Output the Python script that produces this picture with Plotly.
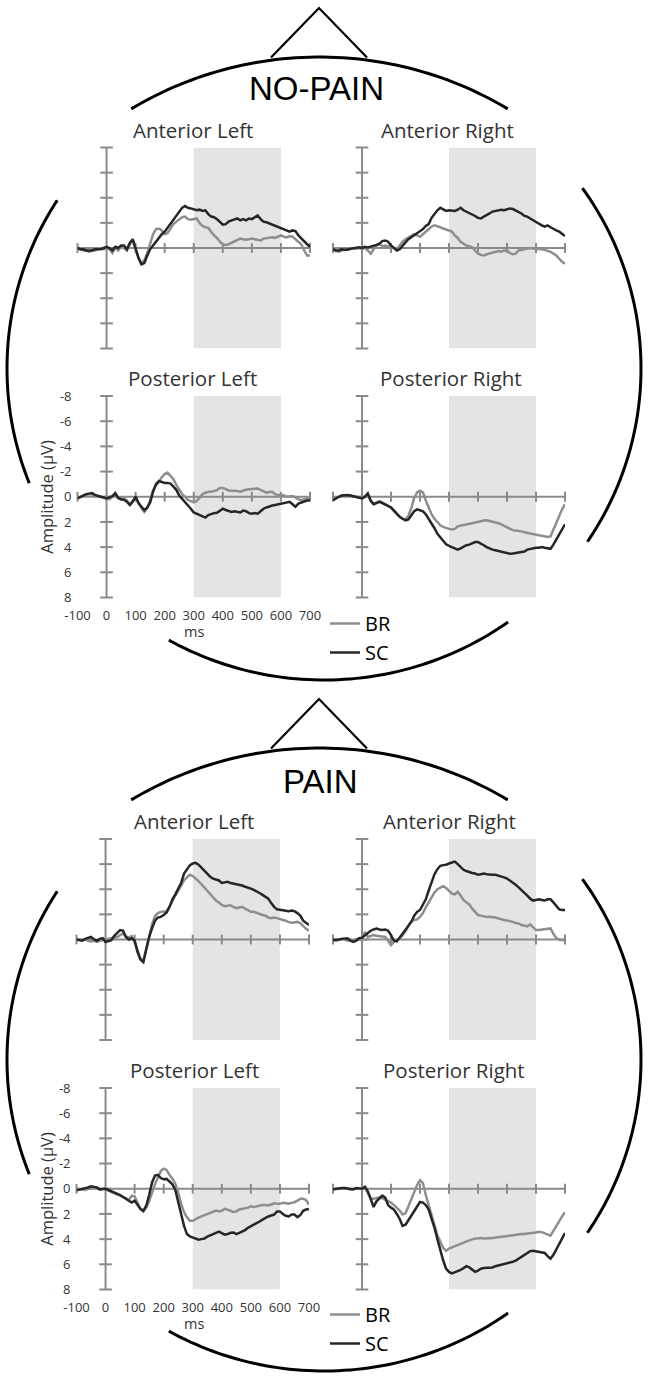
import numpy as np
import plotly.graph_objects as go

FIG_W, FIG_H = 650, 1378

# ---------------- data (µV, negative plotted upward) ----------------
TIME_MS = list(range(-100, 701, 10))

# NO-PAIN
NP_AL_BR = [0.1, 0.1, 0.2, 0.2, 0.3, 0.2, 0.2, 0.1, 0.0, 0.1,
            0.0, 0.1, 0.4, 0.0, 0.2, -0.1, 0.0, 0.2, -0.3, -0.6,
            0.1, 0.8, 1.2, 1.0, 0.4, -0.3, -1.1, -1.5, -1.55, -1.4,
            -1.1, -1.2, -1.6, -1.9, -2.1, -2.3, -2.45, -2.5, -2.3, -2.25,
            -2.3, -2.35, -2.0, -1.75, -1.65, -1.6, -1.3, -1.0, -0.8, -0.5,
            -0.3, -0.25, -0.3, -0.4, -0.5, -0.6, -0.75, -0.7, -0.65, -0.7,
            -0.75, -0.7, -0.65, -0.6, -0.75, -0.8, -0.8, -0.85, -0.8, -0.9,
            -1.0, -0.9, -0.85, -0.95, -0.9, -0.7, -0.5, -0.3, 0.2, 0.6,
            0.6]
NP_AL_SC = [0.0, 0.1, 0.1, 0.2, 0.2, 0.2, 0.1, 0.1, 0.1, 0.0,
            -0.1, 0.0, 0.2, -0.1, 0.0, -0.2, -0.2, 0.1, -0.4, -0.7,
            0.0, 0.8, 1.3, 1.2, 0.6, 0.1, -0.2, -0.5, -0.8, -1.1,
            -1.3, -1.6, -1.95, -2.3, -2.6, -2.9, -3.2, -3.35, -3.2, -3.15,
            -3.1, -3.0, -3.05, -2.95, -3.0, -2.7, -2.5, -2.45, -2.3, -2.1,
            -1.85, -1.9, -2.1, -2.2, -2.3, -2.35, -2.2, -2.3, -2.2, -2.35,
            -2.3, -2.45, -2.6, -2.3, -2.1, -2.05, -1.95, -1.85, -1.75, -1.7,
            -1.55, -1.45, -1.4, -1.3, -1.4, -1.35, -1.0, -0.75, -0.5, -0.3,
            -0.1]
NP_AR_BR = [0.15, 0.2, 0.3, 0.2, 0.1, 0.15, 0.05, 0.0, 0.05, 0.0,
            0.05, 0.0, 0.2, 0.45, 0.1, -0.2, -0.3, -0.15, -0.2, -0.15,
            -0.05, 0.0, 0.05, -0.2, -0.5, -0.7, -0.85, -1.0, -1.1, -1.0,
            -0.9, -1.1, -1.3, -1.55, -1.7, -1.8, -1.75, -1.65, -1.55, -1.45,
            -1.4, -1.3, -1.0, -0.8, -0.5, -0.35, -0.2, -0.15, -0.05, 0.2,
            0.45, 0.55, 0.6, 0.5, 0.45, 0.35, 0.3, 0.25, 0.3, 0.2,
            0.2, 0.4, 0.5, 0.45, 0.2, 0.15, 0.05, 0.0, 0.0, 0.05,
            0.05, 0.1, 0.1, 0.15, 0.2, 0.3, 0.45, 0.6, 0.85, 1.1,
            1.25]
NP_AR_SC = [0.1, 0.2, 0.2, 0.1, 0.15, 0.1, 0.1, 0.0, 0.0, -0.05,
            0.0, -0.1, -0.05, -0.1, -0.2, -0.25, -0.35, -0.55, -0.6, -0.5,
            -0.2, 0.0, 0.2, 0.1, -0.2, -0.45, -0.7, -0.85, -1.05, -1.2,
            -1.35, -1.5, -1.75, -1.9, -2.4, -2.75, -3.0, -3.2, -3.05, -2.95,
            -3.0, -2.95, -2.95, -3.05, -3.2, -3.0, -2.9, -2.8, -2.7, -2.55,
            -2.4, -2.35, -2.5, -2.6, -2.75, -2.9, -2.95, -3.0, -3.05, -3.0,
            -3.05, -3.15, -3.1, -3.0, -2.9, -2.75, -2.55, -2.5, -2.35, -2.2,
            -2.05, -1.95, -1.8, -1.7, -1.8, -1.65, -1.5, -1.4, -1.3, -1.1,
            -0.95]
NP_PL_BR = [0.13, 0.0, -0.1, -0.2, -0.2, -0.2, -0.1, 0.0, 0.0, 0.1,
            0.13, 0.2, 0.0, -0.32, 0.1, 0.2, 0.1, 0.3, 0.6, 0.3,
            0.1, 0.55, 0.9, 1.2, 0.9, 0.3, -0.5, -0.9, -1.15, -1.55,
            -1.8, -1.92, -1.7, -1.4, -0.95, -0.6, -0.2, 0.0, 0.25, 0.35,
            0.45, 0.35, 0.05, -0.2, -0.32, -0.4, -0.4, -0.45, -0.53, -0.7,
            -0.7, -0.6, -0.5, -0.48, -0.48, -0.45, -0.4, -0.5, -0.55, -0.6,
            -0.6, -0.65, -0.65, -0.55, -0.4, -0.32, -0.38, -0.4, -0.2, -0.13,
            -0.13, -0.1, 0.0, 0.0, -0.05, 0.05, 0.2, 0.27, 0.2, 0.13,
            0.13]
NP_PL_SC = [0.13, 0.0, -0.13, -0.2, -0.25, -0.3, -0.15, -0.05, 0.0, 0.05,
            0.13, 0.05, -0.05, -0.27, 0.1, 0.2, 0.25, 0.4, 0.67, 0.4,
            0.0, 0.5, 0.8, 1.07, 0.85, 0.45, -0.4, -1.0, -1.25, -1.15,
            -1.1, -1.1, -1.05, -0.8, -0.55, -0.1, 0.15, 0.4, 0.65, 0.95,
            1.25, 1.35, 1.45, 1.55, 1.65, 1.45, 1.35, 1.3, 1.28, 1.1,
            0.95, 1.05, 1.15, 1.2, 1.15, 1.2, 1.25, 1.1, 1.15, 1.3,
            1.35, 1.3, 1.35, 1.15, 0.95, 0.85, 0.75, 0.7, 0.65, 0.6,
            0.55, 0.5, 0.45, 0.4, 0.6, 0.8, 0.55, 0.45, 0.35, 0.3,
            0.27]
NP_PR_BR = [0.27, 0.1, 0.0, -0.1, -0.1, -0.13, -0.1, -0.05, 0.0, 0.1,
            0.1, 0.0, -0.2, 0.35, 0.55, 0.45, 0.35, 0.45, 0.6, 0.7,
            0.85, 1.1, 1.35, 1.6, 1.75, 1.8, 1.5, 0.9, 0.1, -0.35,
            -0.48, -0.35, 0.3, 0.9, 1.4, 1.75, 2.05, 2.27, 2.4, 2.5,
            2.55, 2.6, 2.55, 2.35, 2.27, 2.25, 2.2, 2.15, 2.05, 2.0,
            1.95, 1.9, 1.88, 1.87, 1.92, 1.98, 2.05, 2.1, 2.2, 2.3,
            2.45, 2.55, 2.65, 2.68, 2.7, 2.75, 2.82, 2.88, 2.92, 2.98,
            3.02, 3.06, 3.1, 3.15, 3.2, 3.15, 2.6, 2.1, 1.5, 1.0,
            0.59]
NP_PR_SC = [0.27, 0.1, 0.0, -0.1, -0.13, -0.13, -0.1, -0.05, 0.0, 0.1,
            0.13, 0.0, -0.27, 0.3, 0.6, 0.5, 0.4, 0.5, 0.6, 0.75,
            0.85, 1.1, 1.35, 1.6, 1.75, 1.87, 1.8, 1.45, 1.15, 1.0,
            1.05, 1.15, 1.4, 1.75, 2.13, 2.5, 2.95, 3.25, 3.5, 3.78,
            3.9, 4.0, 4.1, 4.2, 4.1, 3.95, 3.85, 3.8, 3.7, 3.6,
            3.6, 3.7, 3.85, 4.0, 4.13, 4.2, 4.25, 4.3, 4.35, 4.45,
            4.5, 4.53, 4.5, 4.45, 4.45, 4.4, 4.35, 4.2, 4.13, 4.1,
            4.05, 4.05, 4.0, 4.05, 4.1, 4.13, 3.8, 3.4, 3.0, 2.6,
            2.19]

# PAIN
P_AL_BR = [0.05, 0.0, 0.05, 0.0, 0.1, 0.15, 0.1, 0.2, 0.1, 0.05,
           0.05, 0.0, -0.1, -0.15, -0.2, -0.35, -0.48, -0.25, -0.15, -0.27,
           0.1, 0.85, 1.5, 1.7, 0.8, -0.3, -1.2, -1.85, -2.1, -2.2,
           -2.2, -2.25, -2.6, -3.1, -3.5, -3.9, -4.35, -4.7, -4.95, -5.15,
           -5.05, -4.88, -4.65, -4.4, -4.15, -3.9, -3.6, -3.35, -3.1, -2.95,
           -2.75, -2.65, -2.7, -2.72, -2.6, -2.5, -2.55, -2.6, -2.45, -2.3,
           -2.2, -2.2, -2.1, -2.05, -1.95, -1.9, -1.75, -1.7, -1.75, -1.7,
           -1.6, -1.55, -1.5, -1.38, -1.33, -1.35, -1.4, -1.3, -1.05, -0.85,
           -0.69]
P_AL_SC = [0.0, 0.05, 0.1, -0.05, -0.1, -0.2, 0.0, 0.1, -0.05, -0.1,
           0.2, 0.15, 0.05, -0.3, -0.5, -0.75, -0.7, -0.2, 0.0, -0.1,
           0.1, 1.0, 1.6, 1.8, 0.8, -0.2, -0.9, -1.5, -1.75, -1.8,
           -1.95, -2.15, -2.6, -3.2, -3.6, -4.1, -4.5, -5.25, -5.6, -5.9,
           -6.05, -6.1, -5.95, -5.7, -5.45, -5.2, -5.0, -4.85, -4.8, -4.7,
           -4.5, -4.55, -4.6, -4.5, -4.45, -4.45, -4.4, -4.3, -4.2, -4.15,
           -4.05, -3.95, -3.85, -3.7, -3.55, -3.4, -3.25, -2.9, -2.6, -2.4,
           -2.35, -2.3, -2.3, -2.25, -2.3, -2.25, -2.1, -1.9, -1.5, -1.3,
           -1.15]
P_AR_BR = [0.05, 0.1, 0.05, -0.05, 0.0, 0.1, 0.05, 0.1, 0.0, -0.05,
           0.0, -0.6, -0.2, -0.3, -0.35, -0.3, -0.25, -0.25, -0.2, 0.1,
           0.45, 0.2, 0.05, -0.1, -0.35, -0.65, -1.1, -1.45, -1.55, -1.6,
           -1.8, -2.1, -2.55, -2.95, -3.35, -3.75, -4.0, -4.16, -4.25, -4.1,
           -3.9, -3.65, -3.6, -3.8, -3.5, -3.15, -2.95, -2.8, -2.45, -2.2,
           -1.95, -1.9, -1.85, -1.8, -1.82, -1.8, -1.75, -1.68, -1.6, -1.55,
           -1.52, -1.48, -1.4, -1.32, -1.28, -1.15, -1.07, -1.05, -1.2, -1.0,
           -0.75, -0.75, -0.78, -0.85, -0.9, -0.88, -0.45, -0.1, 0.0, 0.05,
           0.0]
P_AR_SC = [0.05, 0.05, 0.0, -0.05, -0.05, -0.1, 0.1, 0.2, 0.1, -0.1,
           -0.15, -0.35, -0.5, -0.7, -0.8, -0.88, -0.8, -0.75, -0.8, -0.7,
           -0.35, 0.1, 0.15, -0.15, -0.5, -0.75, -1.1, -1.4, -1.9, -2.2,
           -2.35, -2.75, -3.2, -3.9, -4.6, -5.2, -5.6, -5.87, -5.92, -5.95,
           -6.05, -6.15, -6.2, -6.0, -5.75, -5.55, -5.45, -5.35, -5.3, -5.25,
           -5.15, -5.2, -5.25, -5.2, -5.15, -5.15, -5.15, -5.1, -5.0, -4.95,
           -4.85, -4.69, -4.55, -4.35, -4.15, -3.95, -3.75, -3.5, -3.25, -3.1,
           -3.15, -3.2, -3.15, -3.1, -3.2, -3.2, -2.95, -2.65, -2.4, -2.35,
           -2.35]
P_PL_BR = [0.0, 0.05, 0.05, 0.1, 0.0, -0.05, -0.05, -0.05, 0.05, 0.0,
           0.0, 0.15, 0.25, 0.35, 0.45, 0.5, 0.6, 0.75, 0.9, 0.55,
           0.6, 1.1, 1.6, 1.8, 1.5, 1.0, 0.3, -0.35, -0.9, -1.4,
           -1.6, -1.5, -1.1, -0.8, -0.4, 0.3, 1.2, 1.85, 2.27, 2.55,
           2.55, 2.4, 2.3, 2.2, 2.1, 2.0, 1.92, 1.8, 1.73, 1.8,
           1.75, 1.6, 1.65, 1.75, 1.85, 1.8, 1.65, 1.6, 1.6, 1.5,
           1.4, 1.45, 1.4, 1.33, 1.3, 1.3, 1.32, 1.25, 1.15, 1.2,
           1.2, 1.12, 1.15, 1.18, 1.12, 1.07, 0.95, 0.8, 0.8, 0.9,
           1.28]
P_PL_SC = [0.13, 0.05, 0.0, -0.05, -0.1, -0.2, -0.15, -0.1, 0.05, 0.05,
           0.0, 0.1, 0.2, 0.25, 0.35, 0.5, 0.65, 0.8, 1.0, 1.1,
           0.95, 1.3, 1.6, 1.75, 1.35, 0.5, -0.5, -1.05, -1.1, -0.85,
           -0.75, -0.78, -0.6, -0.35, 0.1, 0.95, 2.0, 2.95, 3.6, 3.78,
           3.85, 3.95, 4.05, 4.0, 3.95, 3.8, 3.72, 3.62, 3.5, 3.41,
           3.55, 3.65, 3.6, 3.5, 3.47, 3.6, 3.5, 3.4, 3.28, 3.1,
           2.98, 2.88, 2.75, 2.6, 2.45, 2.3, 2.2, 2.12, 2.05, 1.8,
           1.8, 2.0, 2.15, 2.2, 2.05, 2.05, 2.25, 2.1, 1.75, 1.65,
           1.6]
P_PR_BR = [0.05, 0.0, 0.0, 0.0, -0.05, 0.0, 0.05, 0.0, 0.0, -0.05,
           0.0, -0.15, 0.3, 0.8, 0.8, 0.75, 0.67, 0.75, 0.85, 1.0,
           1.1, 1.3, 1.5, 1.73, 2.05, 1.95, 1.4, 0.85, 0.25, -0.3,
           -0.67, -0.45, 0.5, 1.35, 2.1, 3.0, 3.7, 4.2, 4.7, 4.93,
           4.75, 4.65, 4.55, 4.45, 4.4, 4.25, 4.18, 4.1, 4.02, 3.95,
           3.95, 3.92, 3.95, 3.95, 3.95, 3.92, 3.88, 3.85, 3.8, 3.78,
           3.72, 3.68, 3.68, 3.65, 3.62, 3.6, 3.6, 3.55, 3.55, 3.5,
           3.47, 3.42, 3.45, 3.55, 3.65, 3.73, 3.35, 2.95, 2.5, 2.2,
           1.87]
P_PR_SC = [0.05, 0.0, 0.0, -0.05, -0.05, 0.0, 0.05, 0.05, -0.05, 0.0,
           0.0, -0.15, 0.2, 0.8, 1.45, 1.0, 0.8, 0.55, 0.7, 1.3,
           1.5, 1.65, 2.0, 2.4, 2.95, 2.85, 2.5, 2.15, 1.8, 1.4,
           1.05, 1.1, 1.3, 1.65, 2.3, 3.1, 4.0, 4.9, 5.7, 6.35,
           6.6, 6.72, 6.65, 6.55, 6.45, 6.3, 6.15, 6.25, 6.4, 6.6,
           6.5, 6.35, 6.3, 6.27, 6.27, 6.25, 6.15, 6.1, 6.05, 6.0,
           5.95, 5.87, 5.8, 5.7, 5.55, 5.4, 5.3, 5.1, 4.95, 4.92,
           4.95, 5.0, 5.05, 5.1, 5.35, 5.55, 5.25, 4.8, 4.4, 4.0,
           3.52]

SERIES_NAMES = ["BR", "SC"]
CONDITIONS = ["NO-PAIN", "PAIN"]
PANEL_TITLES = ["Anterior Left", "Anterior Right", "Posterior Left", "Posterior Right"]
X_TICK_VALUES = [-100, 0, 100, 200, 300, 400, 500, 600, 700]
X_TICK_LABELS = ["-100", "0", "100", "200", "300", "400", "500", "600", "700"]
Y_TICK_VALUES = [-8, -6, -4, -2, 0, 2, 4, 6, 8]
Y_TICK_LABELS = ["-8", "-6", "-4", "-2", "0", "2", "4", "6", "8"]
X_RANGE = [-100, 700]
Y_RANGE = [-8, 8]
WINDOW_MS = [300, 600]
X_TITLE = "ms"
Y_TITLE = "Amplitude (µV)"

DATA = [
    (NP_AL_BR, NP_AL_SC), (NP_AR_BR, NP_AR_SC), (NP_PL_BR, NP_PL_SC), (NP_PR_BR, NP_PR_SC),
    (P_AL_BR, P_AL_SC), (P_AR_BR, P_AR_SC), (P_PL_BR, P_PL_SC), (P_PR_BR, P_PR_SC),
]

# ---------------- styling / layout (pixels) ----------------
SERIES_COLORS = ["#8e8e8e", "#262626"]
AXIS_COLOR = "#8a8a8a"
WINDOW_COLOR = "#e4e4e4"
TEXT_COLOR = "#333333"
SANS = "Open Sans"
TICK_FONT = dict(family=SANS, size=13, color=TEXT_COLOR)

SECTION_DY = [0, 691]
# (left, right, top, bottom) of each plot area, before section offset
PANEL_BOXES = [
    [(77.5, 310, 147.5, 348.5), (333, 565, 147.5, 348.5),
     (77.5, 310, 396, 597.5), (333, 565, 396, 597.5)],
    [(76.5, 309, 148, 349), (333, 565, 148, 349),
     (76.5, 309, 397, 598.5), (333, 565, 397, 598.5)],
]
TITLE_POS = [(193, 130), (447, 130), (192, 378), (450.5, 378)]
COND_POS = [(316.5, 88.5), (320, 90.5)]
XTITLE_X = 194
XTITLE_GAP = 34          # below the bottom of the posterior-left plot area
YTITLE_X = 47
LEGEND_POS = (325, 604)

# head outline: (centre x, centre y, radius x, radius y, start deg, end deg)
HEAD_ARCS = [
    (319.5, 424.7, 367.7, 367.7, 59.2, 120.8),   # crown
    (324, 368.5, 317, 311.5, 147.3, 201.6),      # left side
    (324, 368.5, 317, 311.5, 240.7, 305.5),      # chin
    (324, 368.5, 317, 311.5, -33.8, 35.4),       # right side
]
NOSE = [(271, 57.5), (319, 8), (367, 57.5)]


def px(x):
    return x / FIG_W


def py(y):
    return 1 - y / FIG_H


fig = go.Figure()
shapes, annotations = [], []
layout_axes = {}

for s, cond in enumerate(CONDITIONS):
    dy = SECTION_DY[s]
    legend_id = "legend" if s == 0 else "legend2"
    for p in range(4):
        idx = s * 4 + p + 1
        xa = "x" if idx == 1 else f"x{idx}"
        ya = "y" if idx == 1 else f"y{idx}"
        l, r, t, b = PANEL_BOXES[s][p]
        t += dy
        b += dy
        labelled = (p == 2)
        layout_axes["xaxis" if idx == 1 else f"xaxis{idx}"] = dict(
            domain=[px(l), px(r)], range=X_RANGE, anchor=ya, automargin=False,
            showgrid=False, zeroline=False, showline=False, ticks="",
            showticklabels=labelled, tickmode="array", tickvals=X_TICK_VALUES,
            ticktext=X_TICK_LABELS, tickfont=TICK_FONT,
            ticklabelstandoff=8, fixedrange=True,
        )
        layout_axes["yaxis" if idx == 1 else f"yaxis{idx}"] = dict(
            domain=[py(b), py(t)], range=[Y_RANGE[1], Y_RANGE[0]], anchor=xa, automargin=False,
            showgrid=False, zeroline=False, showline=False, ticks="",
            showticklabels=labelled, tickmode="array", tickvals=Y_TICK_VALUES,
            ticktext=Y_TICK_LABELS, tickfont=TICK_FONT,
            ticklabelstandoff=5, fixedrange=True,
        )
        # analysis window
        shapes.append(dict(type="rect", xref=xa, yref=ya, x0=WINDOW_MS[0], x1=WINDOW_MS[1],
                           y0=Y_RANGE[0], y1=Y_RANGE[1], fillcolor=WINDOW_COLOR,
                           line=dict(width=0), layer="below"))
        # crossing axes
        shapes.append(dict(type="line", xref=xa, yref=ya, x0=0, x1=0, y0=Y_RANGE[0], y1=Y_RANGE[1],
                           line=dict(color=AXIS_COLOR, width=2), layer="below"))
        shapes.append(dict(type="line", xref=xa, yref=ya, x0=X_RANGE[0], x1=X_RANGE[1], y0=0, y1=0,
                           line=dict(color=AXIS_COLOR, width=2), layer="below"))
        # tick marks crossing the axes
        fig.add_trace(go.Scatter(x=[0] * len(Y_TICK_VALUES), y=Y_TICK_VALUES, xaxis=xa, yaxis=ya,
                                 mode="markers", cliponaxis=False, showlegend=False, hoverinfo="skip",
                                 marker=dict(symbol="line-ew", size=9, color=AXIS_COLOR,
                                             line=dict(color=AXIS_COLOR, width=2))))
        xt = [v for v in X_TICK_VALUES if v != 0]
        fig.add_trace(go.Scatter(x=xt, y=[0] * len(xt), xaxis=xa, yaxis=ya,
                                 mode="markers", cliponaxis=False, showlegend=False, hoverinfo="skip",
                                 marker=dict(symbol="line-ns", size=7, color=AXIS_COLOR,
                                             line=dict(color=AXIS_COLOR, width=2))))
        # waveforms
        for k, name in enumerate(SERIES_NAMES):
            fig.add_trace(go.Scatter(
                x=TIME_MS, y=DATA[idx - 1][k], xaxis=xa, yaxis=ya, mode="lines", name=name,
                line=dict(color=SERIES_COLORS[k], width=2.5), legend=legend_id,
                legendgroup=f"{name}{s}", showlegend=(p == 3), cliponaxis=False,
            ))
        # panel title
        tx, ty = TITLE_POS[p]
        if s == 1:
            tx += [1, 2, 2, 3][p]
            ty += [0, 0, 1, 1][p]
        annotations.append(dict(text=PANEL_TITLES[p], x=px(tx), y=py(ty + dy),
                                xref="paper", yref="paper", showarrow=False,
                                xanchor="center", yanchor="middle",
                                font=dict(family=SANS, size=20.5, color=TEXT_COLOR)))
        if labelled:
            # axis titles of the labelled (posterior-left) panel
            annotations.append(dict(text=X_TITLE, x=px(XTITLE_X), y=py(b + XTITLE_GAP),
                                    xref="paper", yref="paper", showarrow=False,
                                    xanchor="center", yanchor="middle",
                                    font=dict(family=SANS, size=14.5, color=TEXT_COLOR)))
            annotations.append(dict(text=Y_TITLE, x=px(YTITLE_X), y=py((t + b) / 2),
                                    xref="paper", yref="paper", showarrow=False, textangle=-90,
                                    xanchor="center", yanchor="middle",
                                    font=dict(family=SANS, size=16.5, color=TEXT_COLOR)))
    # condition title
    cx, cy = COND_POS[s]
    annotations.append(dict(text=cond, x=px(cx), y=py(cy + dy), xref="paper", yref="paper",
                            showarrow=False, xanchor="center", yanchor="middle",
                            font=dict(family="Liberation Sans", size=33, color="black")))
    # head outline
    for hcx, hcy, rx, ry, a0, a1 in HEAD_ARCS:
        th = np.radians(np.linspace(a0, a1, 60))
        xs = hcx + rx * np.cos(th)
        ys = hcy + dy - ry * np.sin(th)
        path = "M" + " L".join(f"{px(x):.5f},{py(y):.5f}" for x, y in zip(xs, ys))
        shapes.append(dict(type="path", xref="paper", yref="paper", path=path,
                           line=dict(color="black", width=3), layer="above"))
    nose = "M" + " L".join(f"{px(x):.5f},{py(y + dy):.5f}" for x, y in NOSE)
    shapes.append(dict(type="path", xref="paper", yref="paper", path=nose,
                       line=dict(color="black", width=2.2), layer="above"))

legend_common = dict(xanchor="left", yanchor="top", bgcolor="rgba(0,0,0,0)",
                     font=dict(family=SANS, size=20, color="black"),
                     tracegroupgap=4, itemwidth=30, traceorder="normal")

fig.update_layout(
    width=FIG_W, height=FIG_H, margin=dict(l=0, r=0, t=0, b=0, autoexpand=False),
    paper_bgcolor="white", plot_bgcolor="rgba(0,0,0,0)",
    shapes=shapes, annotations=annotations, hovermode=False,
    legend=dict(x=px(LEGEND_POS[0]), y=py(LEGEND_POS[1]), **legend_common),
    legend2=dict(x=px(LEGEND_POS[0]), y=py(LEGEND_POS[1] + SECTION_DY[1]), **legend_common),
    **layout_axes,
)

# remove the browser's default page margin so the figure sits at the window origin
fig.write_html("out.html", config={"displayModeBar": False},
               post_script="document.body.style.margin='0px';document.body.style.overflow='hidden';")
